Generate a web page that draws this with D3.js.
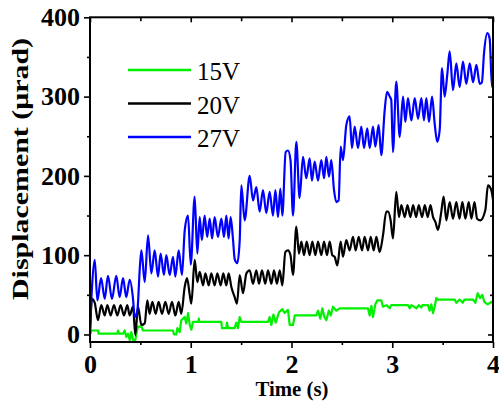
<!DOCTYPE html>
<meta charset="utf-8">
<script src="https://d3js.org/d3.v7.min.js"></script>
<style>
  body { margin: 0; background: #fff; }
  text { font-family: "Liberation Serif", "Times New Roman", serif; }
</style>
<svg id="chart" width="499" height="406"></svg>
<script>

// data: [time (s), displacement (urad)]
var s15 = [[0,0],[0.013,5],[0.079,5],[0.086,1],[0.271,1],[0.278,5],[0.288,1],[0.328,1],[0.344,5],[0.361,-3],[0.377,1],[0.394,-7],[0.41,3],[0.427,-7],[0.45,-7],[0.46,1],[0.476,10],[0.51,10],[0.526,5],[0.824,5],[0.834,0],[0.857,0],[0.867,8],[0.89,3],[0.906,18],[0.94,22],[0.956,14],[0.973,27],[0.99,12],[1.006,6],[1.022,16],[1.075,16],[1.08,20],[1.085,16],[1.303,16],[1.31,8],[1.353,8],[1.36,15],[1.37,8],[1.436,8],[1.452,15],[1.469,8],[1.486,22],[1.502,16],[1.767,16],[1.783,22],[1.8,12],[1.82,25],[1.843,15],[1.876,28],[1.909,32],[1.932,27],[1.965,31],[1.982,12],[2.015,12],[2.032,24],[2.246,24],[2.263,30],[2.286,20],[2.306,33],[2.326,22],[2.346,18],[2.37,30],[2.39,24],[2.412,35],[2.445,30],[2.478,33],[2.759,33],[2.776,24],[2.793,36],[2.809,22],[2.832,38],[2.852,43],[2.891,43],[2.908,35],[2.941,37],[2.975,33],[2.99,37],[3.156,37],[3.173,33],[3.19,37],[3.24,33],[3.263,37],[3.289,34],[3.3,37],[3.355,37],[3.371,30],[3.388,38],[3.404,27],[3.421,35],[3.437,46],[3.454,44],[3.62,44],[3.636,40],[3.669,44],[3.7,40],[3.716,44],[3.802,44],[3.825,40],[3.848,52],[3.871,46],[3.894,50],[3.914,41],[3.947,38],[3.983,41],[4.0,39]];

var s20 = [[0,0],[0.02,45],[0.047,40],[0.079,18],[0.112,37],[0.146,24],[0.172,37],[0.205,24],[0.238,37],[0.271,24],[0.304,37],[0.337,24],[0.37,37],[0.394,24],[0.427,35],[0.45,-1],[0.476,35],[0.51,12],[0.543,14],[0.569,43],[0.592,26],[0.619,41],[0.652,26],[0.681,41],[0.715,26],[0.748,41],[0.781,26],[0.814,41],[0.847,24],[0.88,41],[0.906,26],[0.94,60],[0.963,71],[0.99,50],[1.006,39],[1.039,94],[1.065,66],[1.089,79],[1.122,62],[1.145,77],[1.178,62],[1.204,77],[1.237,62],[1.264,77],[1.297,62],[1.323,77],[1.353,62],[1.376,77],[1.403,60],[1.436,47],[1.459,39],[1.486,75],[1.519,52],[1.552,77],[1.585,81],[1.618,64],[1.651,81],[1.677,64],[1.707,81],[1.74,64],[1.767,81],[1.8,64],[1.826,81],[1.856,64],[1.883,81],[1.909,62],[1.939,104],[1.965,106],[1.99,100],[2.015,75],[2.048,136],[2.074,102],[2.098,117],[2.124,100],[2.151,117],[2.18,100],[2.207,117],[2.237,100],[2.263,117],[2.296,100],[2.323,117],[2.352,100],[2.379,117],[2.405,100],[2.428,98],[2.455,87],[2.488,117],[2.511,98],[2.544,119],[2.577,106],[2.61,123],[2.637,106],[2.667,123],[2.7,106],[2.726,123],[2.759,106],[2.786,123],[2.816,106],[2.842,123],[2.875,104],[2.908,125],[2.941,155],[2.958,155],[2.984,144],[3.007,121],[3.04,180],[3.067,148],[3.09,163],[3.124,148],[3.151,163],[3.18,148],[3.207,163],[3.237,148],[3.263,163],[3.296,148],[3.323,163],[3.352,148],[3.379,163],[3.405,148],[3.428,142],[3.454,132],[3.487,155],[3.51,174],[3.537,144],[3.57,167],[3.603,146],[3.636,167],[3.667,146],[3.696,167],[3.726,146],[3.759,167],[3.786,146],[3.816,167],[3.842,146],[3.875,144],[3.924,157],[3.95,188],[3.983,182],[4.0,170]];

var s27 = [[0,5],[0.02,60],[0.047,94],[0.073,43],[0.11,71],[0.146,45],[0.178,74],[0.218,45],[0.261,74],[0.294,47],[0.328,71],[0.36,47],[0.394,69],[0.427,45],[0.443,22],[0.47,30],[0.495,85],[0.51,106],[0.543,66],[0.576,125],[0.609,77],[0.642,106],[0.675,73],[0.701,102],[0.734,75],[0.757,100],[0.791,75],[0.824,98],[0.847,73],[0.88,106],[0.913,75],[0.94,131],[0.973,150],[1.0,88],[1.039,174],[1.065,102],[1.089,148],[1.11,119],[1.138,150],[1.163,123],[1.188,146],[1.212,121],[1.237,148],[1.27,123],[1.304,146],[1.33,123],[1.353,150],[1.375,121],[1.396,148],[1.42,119],[1.436,95],[1.462,90],[1.486,119],[1.502,188],[1.535,144],[1.585,200],[1.618,169],[1.651,186],[1.684,155],[1.717,182],[1.75,153],[1.783,180],[1.816,150],[1.84,182],[1.866,148],[1.889,184],[1.909,150],[1.942,230],[1.965,232],[1.99,220],[2.015,150],[2.048,243],[2.08,172],[2.114,224],[2.147,197],[2.18,222],[2.203,194],[2.23,218],[2.263,194],[2.296,220],[2.323,197],[2.346,224],[2.372,199],[2.395,220],[2.422,182],[2.445,167],[2.468,169],[2.488,237],[2.511,220],[2.544,264],[2.577,275],[2.6,235],[2.627,262],[2.66,235],[2.693,262],[2.72,235],[2.752,260],[2.776,235],[2.809,262],[2.832,237],[2.865,264],[2.891,226],[2.925,283],[2.948,306],[2.975,300],[2.99,296],[3.007,230],[3.04,319],[3.074,249],[3.107,300],[3.13,268],[3.156,298],[3.19,270],[3.223,298],[3.256,272],[3.289,298],[3.315,270],[3.338,298],[3.365,268],[3.395,300],[3.421,266],[3.447,243],[3.471,258],[3.494,336],[3.52,300],[3.547,329],[3.57,357],[3.603,308],[3.636,342],[3.669,312],[3.702,344],[3.735,316],[3.769,342],[3.802,318],[3.835,340],[3.868,316],[3.89,318],[3.911,355],[3.944,380],[3.967,373],[3.99,312],[4.0,330]];

var xTicks = [0, 1, 2, 3, 4];
var xMinor = [0.5, 1.5, 2.5, 3.5];
var yTicks = [0, 100, 200, 300, 400];
var yMinor = [50, 150, 250, 350];
var legendNames = ["15V", "20V", "27V"];

var svg = d3.select("#chart");

var x = d3.scaleLinear().domain([0, 4]).range([90, 493]);
var y = d3.scaleLinear().domain([-9.5, 400]).range([342, 17.3]);

var series = [
  { name: legendNames[0], data: s15, color: "#00f000", curve: d3.curveLinear },
  { name: legendNames[1], data: s20, color: "#000000", curve: d3.curveMonotoneX },
  { name: legendNames[2], data: s27, color: "#0000ff", curve: d3.curveMonotoneX }
];

// clip to plot frame
svg.append("clipPath").attr("id", "clip")
  .append("rect")
  .attr("x", x(0)).attr("y", y(400))
  .attr("width", x(4) - x(0)).attr("height", y(-9.5) - y(400));

var lines = svg.append("g").attr("clip-path", "url(#clip)");
series.forEach(function(s) {
  var line = d3.line()
    .x(function(d) { return x(d[0]); })
    .y(function(d) { return y(d[1]); })
    .curve(s.curve);
  lines.append("path")
    .datum(s.data)
    .attr("d", line)
    .attr("fill", "none")
    .attr("stroke", s.color)
    .attr("stroke-width", 2.2)
    .attr("stroke-linejoin", "round");
});

function styleAxis(g) {
  g.select(".domain").remove();
  g.selectAll(".tick line").attr("stroke", "#000").attr("stroke-width", 1.6);
  g.selectAll(".tick text")
    .attr("fill", "#000")
    .attr("font-family", "Liberation Serif")
    .attr("font-weight", "bold")
    .attr("font-size", 26);
}

// bottom
svg.append("g").attr("transform", "translate(0," + y(-9.5) + ")")
  .call(d3.axisBottom(x).tickValues(xTicks).tickSize(6).tickPadding(7).tickFormat(d3.format("d")))
  .call(styleAxis);
svg.append("g").attr("transform", "translate(0," + y(-9.5) + ")")
  .call(d3.axisBottom(x).tickValues(xMinor).tickSize(3).tickFormat(""))
  .call(styleAxis);
// top (inward)
svg.append("g").attr("transform", "translate(0," + y(400) + ")")
  .call(d3.axisBottom(x).tickValues(xTicks).tickSize(5).tickFormat(""))
  .call(styleAxis);
svg.append("g").attr("transform", "translate(0," + y(400) + ")")
  .call(d3.axisBottom(x).tickValues(xMinor).tickSize(4).tickFormat(""))
  .call(styleAxis);
// left
svg.append("g").attr("transform", "translate(" + x(0) + ",0)")
  .call(d3.axisLeft(y).tickValues(yTicks).tickSize(6).tickPadding(4))
  .call(styleAxis);
svg.append("g").attr("transform", "translate(" + x(0) + ",0)")
  .call(d3.axisLeft(y).tickValues(yMinor).tickSize(3).tickFormat(""))
  .call(styleAxis);
// right (inward)
svg.append("g").attr("transform", "translate(" + x(4) + ",0)")
  .call(d3.axisLeft(y).tickValues(yTicks).tickSize(5).tickFormat(""))
  .call(styleAxis);
svg.append("g").attr("transform", "translate(" + x(4) + ",0)")
  .call(d3.axisLeft(y).tickValues(yMinor).tickSize(3).tickFormat(""))
  .call(styleAxis);

// frame
svg.append("rect")
  .attr("x", x(0)).attr("y", y(400))
  .attr("width", x(4) - x(0)).attr("height", y(-9.5) - y(400))
  .attr("fill", "none").attr("stroke", "#000").attr("stroke-width", 2);

// axis titles
svg.append("text")
  .attr("x", 292).attr("y", 396)
  .attr("text-anchor", "middle")
  .attr("font-family", "Liberation Serif")
  .attr("font-weight", "bold").attr("font-size", 20)
  .attr("textLength", 73).attr("lengthAdjust", "spacingAndGlyphs")
  .text("Time (s)");

svg.append("text")
  .attr("transform", "translate(28,169) rotate(-90)")
  .attr("text-anchor", "middle")
  .attr("font-family", "Liberation Serif")
  .attr("textLength", 262).attr("lengthAdjust", "spacingAndGlyphs")
  .attr("font-weight", "bold").attr("font-size", 24)
  .text("Displacement (\u03bcrad)");

// legend
var legend = svg.append("g");
series.forEach(function(s, i) {
  var ly = 70 + i * 33.5;
  legend.append("line")
    .attr("x1", 128).attr("x2", 191)
    .attr("y1", ly).attr("y2", ly)
    .attr("stroke", s.color).attr("stroke-width", 2.5);
  legend.append("text")
    .attr("x", 197).attr("y", ly + 10)
    .attr("font-family", "Liberation Serif")
    .attr("font-size", 25)
    .text(s.name);
});

</script>
